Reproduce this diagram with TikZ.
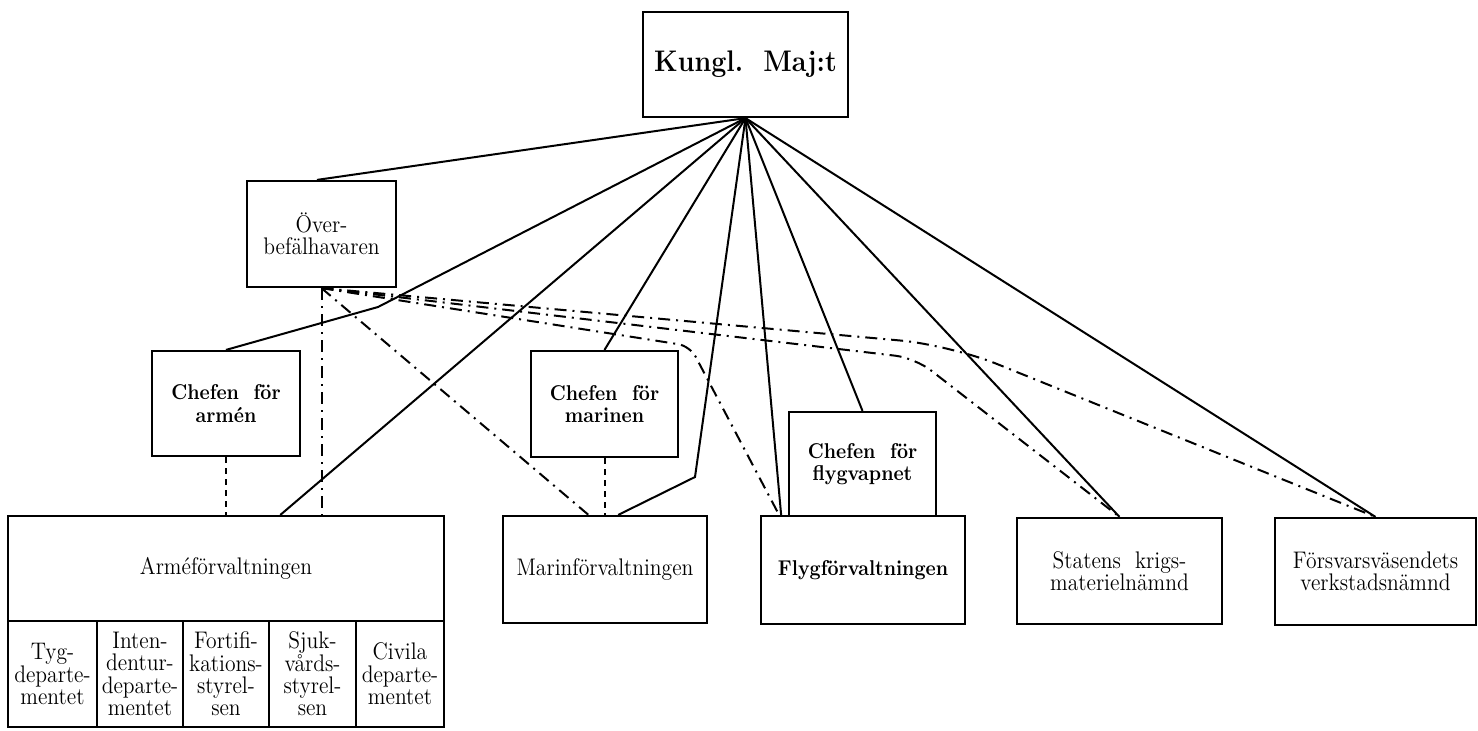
\documentclass[tikz,border=0pt]{standalone}
\usepackage{fontspec}
\setmainfont{Latin Modern Roman}[FakeStretch=0.9]
\usetikzlibrary{calc}
\newcommand\orgreg{\fontsize{12}{11.2}\selectfont}
\newcommand\orgbold{\fontsize{10.7}{11.2}\selectfont\bfseries}
\newcommand\orgkung{\fontsize{14.9}{16}\selectfont\bfseries}
\tikzset{
  box/.style={draw, line width=1.1pt, inner sep=0pt, align=center, font=\orgreg},
  bbox/.style={box, font=\orgbold},
  conn/.style={line width=1pt},
  dashdot/.style={line width=1pt, dash pattern=on 6pt off 3pt on 1pt off 3pt},
  shortdash/.style={line width=1pt, dash pattern=on 3pt off 2.5pt},
}
\begin{document}
\begin{tikzpicture}[x=0.5pt, y=-0.5pt]
\useasboundingbox (0,0) rectangle (1478,730);
% boxes
\node[box, font=\orgkung, minimum width=102.5pt, minimum height=52.5pt] (kung) at (745.5,64.5) {Kungl.\ \ Maj:t};
\node[box, minimum width=74.5pt, minimum height=53pt] (over) at (321.5,234) {Över-\\befälhavaren};
\node[bbox, minimum width=74pt, minimum height=52.5pt] (ca) at (226,403.5) {Chefen\ \ för\\armén};
\node[box, minimum width=218pt, minimum height=52.5pt] (armef) at (226,568.5) {Arméförvaltningen};
\node[box, minimum width=44.5pt, minimum height=53pt] (d1) at (52.5,674) {Tyg-\\departe-\\mentet};
\node[box, minimum width=43pt, minimum height=53pt] (d2) at (140,674) {Inten-\\dentur-\\departe-\\mentet};
\node[box, minimum width=43pt, minimum height=53pt] (d3) at (226,674) {Fortifi-\\kations-\\styrel-\\sen};
\node[box, minimum width=43.5pt, minimum height=53pt] (d4) at (312.5,674) {Sjuk-\\vårds-\\styrel-\\sen};
\node[box, minimum width=44pt, minimum height=53pt] (d5) at (400,674) {Civila\\departe-\\mentet};
\node[bbox, minimum width=73.5pt, minimum height=53pt] (cm) at (604.5,404) {Chefen\ \ för\\marinen};
\node[box, minimum width=102pt, minimum height=53.5pt] (marf) at (605,569.5) {Marinförvaltningen};
\node[bbox, minimum width=73.5pt, minimum height=52pt] (cf) at (862.5,464) {Chefen\ \ för\\flygvapnet};
\node[bbox, minimum width=102pt, minimum height=54pt] (flygf) at (863,570) {Flygförvaltningen};
\node[box, minimum width=102.5pt, minimum height=53pt] (statens) at (1119.5,571) {Statens\ \ krigs-\\materielnämnd};
\node[box, minimum width=100.5pt, minimum height=53.5pt] (forsv) at (1375.5,571.5) {Försvarsväsendets\\verkstadsnämnd};
% bend points
\coordinate (k2) at (378,307);
\coordinate (k5) at (695,477);
\coordinate (b3) at (690,346);
\coordinate (b2) at (915,358);
\coordinate (b1) at (950,345);
% solid lines from Kungl. Maj:t
\draw[conn] (kung.south) -- ($(over.north west)!0.47!(over.north east)$);
\draw[conn] (kung.south) -- (k2) -- (ca.north);
\draw[conn] (kung.south) -- ($(armef.north west)!0.624!(armef.north east)$);
\draw[conn] (kung.south) -- (cm.north);
\draw[conn] (kung.south) -- (k5) -- ($(marf.north west)!0.564!(marf.north east)$);
\draw[conn] (kung.south) -- ($(flygf.north west)!0.103!(flygf.north east)$);
\draw[conn] (kung.south) -- (cf.north);
\draw[conn] (kung.south) -- (statens.north);
\draw[conn] (kung.south) -- (forsv.north);
% dash-dot lines from Överbefälhavaren
\draw[dashdot] (over.south) -- (over.south |- armef.north);
\draw[dashdot] (over.south) -- ($(marf.north west)!0.42!(marf.north east)$);
\draw[dashdot, rounded corners=6pt] (over.south) -- (b3) -- ($(flygf.north west)!0.093!(flygf.north east)$);
\draw[dashdot, rounded corners=10pt] (over.south) -- (b2) -- (statens.north);
\draw[dashdot, rounded corners=25pt] (over.south) -- (b1) -- (forsv.north);
% dashed lines from the chiefs
\draw[shortdash] (ca.south) -- (ca.south |- armef.north);
\draw[shortdash] (cm.south) -- (cm.south |- marf.north);
\end{tikzpicture}
\end{document}
